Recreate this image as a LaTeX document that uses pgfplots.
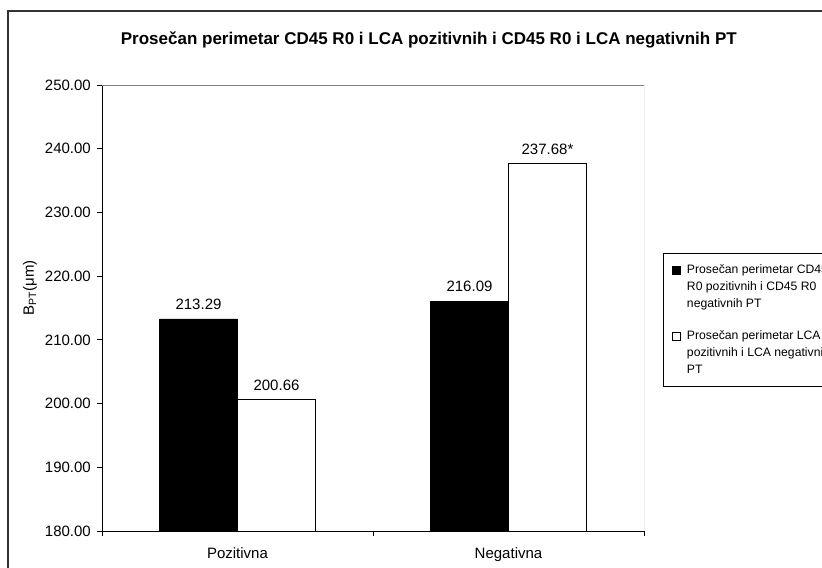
\documentclass[border=0pt]{standalone}
\usepackage{fontspec}
\setmainfont{Liberation Sans}
\usepackage{pgfplots}
\pgfplotsset{compat=1.18}
\begin{document}
\begin{tikzpicture}[x=1bp,y=1bp]
\useasboundingbox (0,0) rectangle (822,568);
\clip (0,0) rectangle (822,568);
\draw[line width=1.5bp, black!80] (8,-20) rectangle (900,557);
\begin{axis}[
  at={(102bp,37bp)}, anchor=south west,
  scale only axis, width=542bp, height=446bp,
  xmin=-0.5, xmax=1.5, ymin=180, ymax=250,
  ytick distance=10,
  axis x line*=bottom, axis y line*=left,
  axis line style={line width=0.8bp, black},
  tick style={line width=0.8bp, black},
  tick align=outside, major tick length=5bp,
  ytick pos=left,
  xtick={-0.5,0.5,1.5}, xticklabels={},
  extra x ticks={0,1}, extra x tick labels={Pozitivna,Negativna},
  extra x tick style={major tick length=0pt, tick style={draw=none}},
  /pgf/number format/assume math mode=true,
  yticklabel={\pgfmathprintnumber[fixed,fixed zerofill,precision=2]{\tick}},
  ticklabel style={font=\fontsize{15bp}{18bp}\selectfont},
  yticklabel style={anchor=east, inner sep=0pt, xshift=-6bp},
  xticklabel style={anchor=base, inner sep=0pt, yshift=-28bp},
  ylabel={B\textsubscript{PT}(μm)},
  ylabel style={at={(axis description cs:-0.133,0.545)}, anchor=center, font=\fontsize{15bp}{18bp}\selectfont},
  title={\bfseries Prosečan perimetar CD45 R0 i LCA pozitivnih i CD45 R0 i LCA negativnih PT},
  title style={at={(axis description cs:0.603,1.078)}, anchor=base, inner sep=0pt, font=\fontsize{17bp}{20bp}\selectfont},
  ybar=0pt, bar width=78bp,
  nodes near coords, point meta=explicit symbolic,
  every node near coord/.append style={inner sep=0pt, yshift=8.8bp, font=\fontsize{15bp}{18bp}\selectfont, black},
  legend style={at={(axis description cs:1.035,0.6233)}, anchor=north west,
    draw=black, line width=0.8bp, fill=white,
    inner xsep=9bp, inner ysep=9bp,
    font=\fontsize{12.2bp}{14.5bp}\selectfont,
    cells={anchor=west, align=left},
    row sep=18bp, column sep=4bp},
]
\addplot[fill=black, draw=black, line width=0.6bp,
  legend image code/.code={\draw[fill=black,draw=black,line width=0.6bp] (0bp,12.5bp) rectangle (8bp,20.5bp);}]
  coordinates {(0,213.29) [213.29] (1,216.09) [216.09]};
\addlegendentry{Prosečan perimetar CD45\\[2.5bp]R0 pozitivnih i CD45 R0\\[2.5bp]negativnih PT}
\addplot[fill=white, draw=black, line width=0.6bp,
  legend image code/.code={\draw[fill=white,draw=black,line width=0.6bp] (0bp,12.5bp) rectangle (8bp,20.5bp);}]
  coordinates {(0,200.66) [200.66] (1,237.68) [237.68*]};
\addlegendentry{Prosečan perimetar LCA\\[2.5bp]pozitivnih i LCA negativnih\\[2.5bp]PT}
\draw[gray, line width=0.8bp] (rel axis cs:0,1) -- (rel axis cs:1,1) -- (rel axis cs:1,0);
\end{axis}
\end{tikzpicture}
\end{document}
